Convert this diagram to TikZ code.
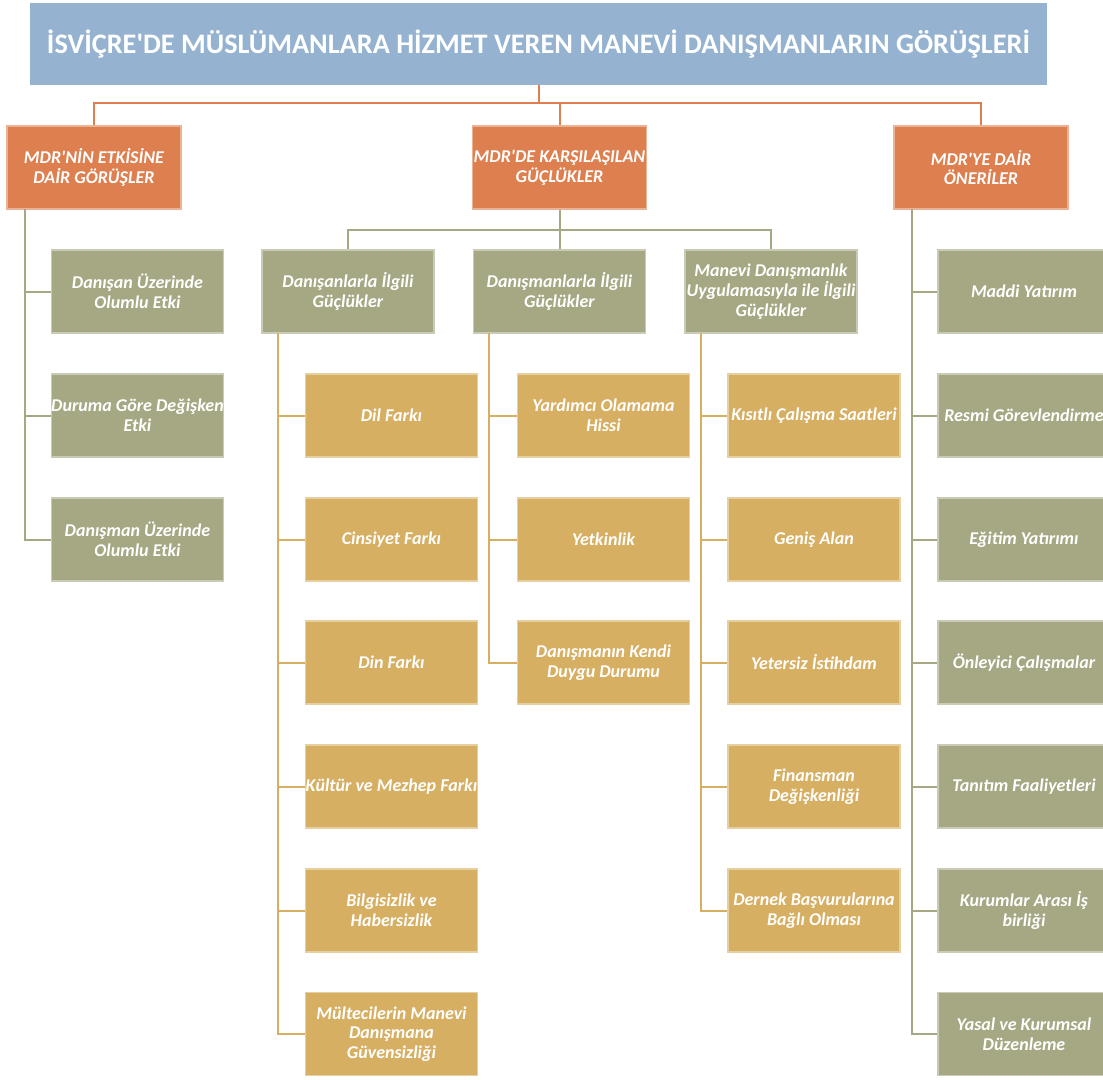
\documentclass[tikz,border=0pt]{standalone}
\usepackage{fontspec}
\setmainfont{Carlito}
\definecolor{titleblue}{RGB}{149,179,208}
\definecolor{orangeC}{RGB}{221,127,79}
\definecolor{oliveC}{RGB}{165,168,130}
\definecolor{goldC}{RGB}{214,175,98}
\newcommand{\apo}{\textquotesingle}
\tikzset{
  basebox/.style={minimum width=129pt, minimum height=62.25pt, inner sep=0pt, align=center, text=white,
    font=\bfseries\itshape\fontsize{13.5}{14.8}\selectfont, line width=0.8pt},
  obox/.style={basebox, fill=orangeC, draw=orangeC!60!white, minimum width=130.5pt},
  gbox/.style={basebox, fill=oliveC, draw=oliveC!60!white},
  ybox/.style={basebox, fill=goldC, draw=goldC!60!white},
  oline/.style={draw=orangeC, line width=1.5pt},
  gline/.style={draw=oliveC, line width=1.5pt},
  yline/.style={draw=goldC, line width=1.5pt},
}
\begin{document}
\begin{tikzpicture}[x=0.75pt,y=-0.75pt]
\useasboundingbox (0,0) rectangle (1103,1079);
\clip (0,0) rectangle (1103,1079);
% title
\node[fill=titleblue, minimum width=762.75pt, minimum height=61.5pt, inner sep=0pt, text=white,
  font=\bfseries\fontsize{21.2}{24}\selectfont] (title) at (538.5,44) {İSVİÇRE\apo DE MÜSLÜMANLARA HİZMET VEREN MANEVİ DANIŞMANLARIN GÖRÜŞLERİ};
% level 1
\node[obox] (A) at (94,167.5) {MDR\apo NİN ETKİSİNE\\DAİR GÖRÜŞLER};
\node[obox] (B) at (559.5,167.5) {MDR\apo DE KARŞILAŞILAN\\GÜÇLÜKLER};
\node[obox] (C) at (981,167.5) {MDR\apo YE DAİR\\ÖNERİLER};
% level 2
\node[gbox] (D1) at (348,291.5) {Danışanlarla İlgili\\Güçlükler};
\node[gbox] (D2) at (559.5,291.5) {Danışmanlarla İlgili\\Güçlükler};
\node[gbox] (D3) at (771,291.5) {Manevi Danışmanlık\\Uygulamasıyla ile İlgili\\Güçlükler};
% left column
\node[gbox] (a1) at (137.5,291.5) {Danışan Üzerinde\\Olumlu Etki};
\node[gbox] (a2) at (137.5,415.5) {Duruma Göre Değişken\\Etki};
\node[gbox] (a3) at (137.5,539.5) {Danışman Üzerinde\\Olumlu Etki};
% D1 children
\node[ybox] (d11) at (391.5,415.5) {Dil Farkı};
\node[ybox] (d12) at (391.5,539.5) {Cinsiyet Farkı};
\node[ybox] (d13) at (391.5,662.5) {Din Farkı};
\node[ybox] (d14) at (391.5,786.5) {Kültür ve Mezhep Farkı};
\node[ybox] (d15) at (391.5,910.5) {Bilgisizlik ve\\Habersizlik};
\node[ybox] (d16) at (391.5,1034) {Mültecilerin Manevi\\Danışmana\\Güvensizliği};
% D2 children
\node[ybox] (d21) at (603.5,415.5) {Yardımcı Olamama\\Hissi};
\node[ybox] (d22) at (603.5,539.5) {Yetkinlik};
\node[ybox] (d23) at (603.5,662.5) {Danışmanın Kendi\\Duygu Durumu};
% D3 children
\node[ybox] (d31) at (814,415.5) {Kısıtlı Çalışma Saatleri};
\node[ybox] (d32) at (814,539.5) {Geniş Alan};
\node[ybox] (d33) at (814,662.5) {Yetersiz İstihdam};
\node[ybox] (d34) at (814,786.5) {Finansman\\Değişkenliği};
\node[ybox] (d35) at (814,910.5) {Dernek Başvurularına\\Bağlı Olması};
% right column
\node[gbox] (c1) at (1024,291.5) {Maddi Yatırım};
\node[gbox] (c2) at (1024,415.5) {Resmi Görevlendirme};
\node[gbox] (c3) at (1024,539.5) {Eğitim Yatırımı};
\node[gbox] (c4) at (1024,662.5) {Önleyici Çalışmalar};
\node[gbox] (c5) at (1024,786.5) {Tanıtım Faaliyetleri};
\node[gbox] (c6) at (1024,910.5) {Kurumlar Arası İş\\birliği};
\node[gbox] (c7) at (1024,1034) {Yasal ve Kurumsal\\Düzenleme};
% connectors: title
\coordinate (j0) at (538.5,103);
\draw[oline] (title.south) -- (j0) -| (A.north);
\draw[oline] (j0) -| (B.north);
\draw[oline] (j0) -| (C.north);
% B to level 2
\coordinate (j1) at (559.5,230);
\draw[gline] (B.south) -- (j1) -| (D1.north);
\draw[gline] (j1) -| (D3.north);
\draw[gline] (j1) -- (D2.north);
% trunks
\coordinate (tA) at (25,209);
\coordinate (tC) at (912,209);
\coordinate (t1) at (278,333);
\coordinate (t2) at (489,333);
\coordinate (t3) at (701,333);
\foreach \n in {a1,a2,a3} \draw[gline] (tA) |- (\n.west);
\foreach \n in {c1,c2,c3,c4,c5,c6,c7} \draw[gline] (tC) |- (\n.west);
\foreach \n in {d11,d12,d13,d14,d15,d16} \draw[yline] (t1) |- (\n.west);
\foreach \n in {d21,d22,d23} \draw[yline] (t2) |- (\n.west);
\foreach \n in {d31,d32,d33,d34,d35} \draw[yline] (t3) |- (\n.west);
\end{tikzpicture}
\end{document}
